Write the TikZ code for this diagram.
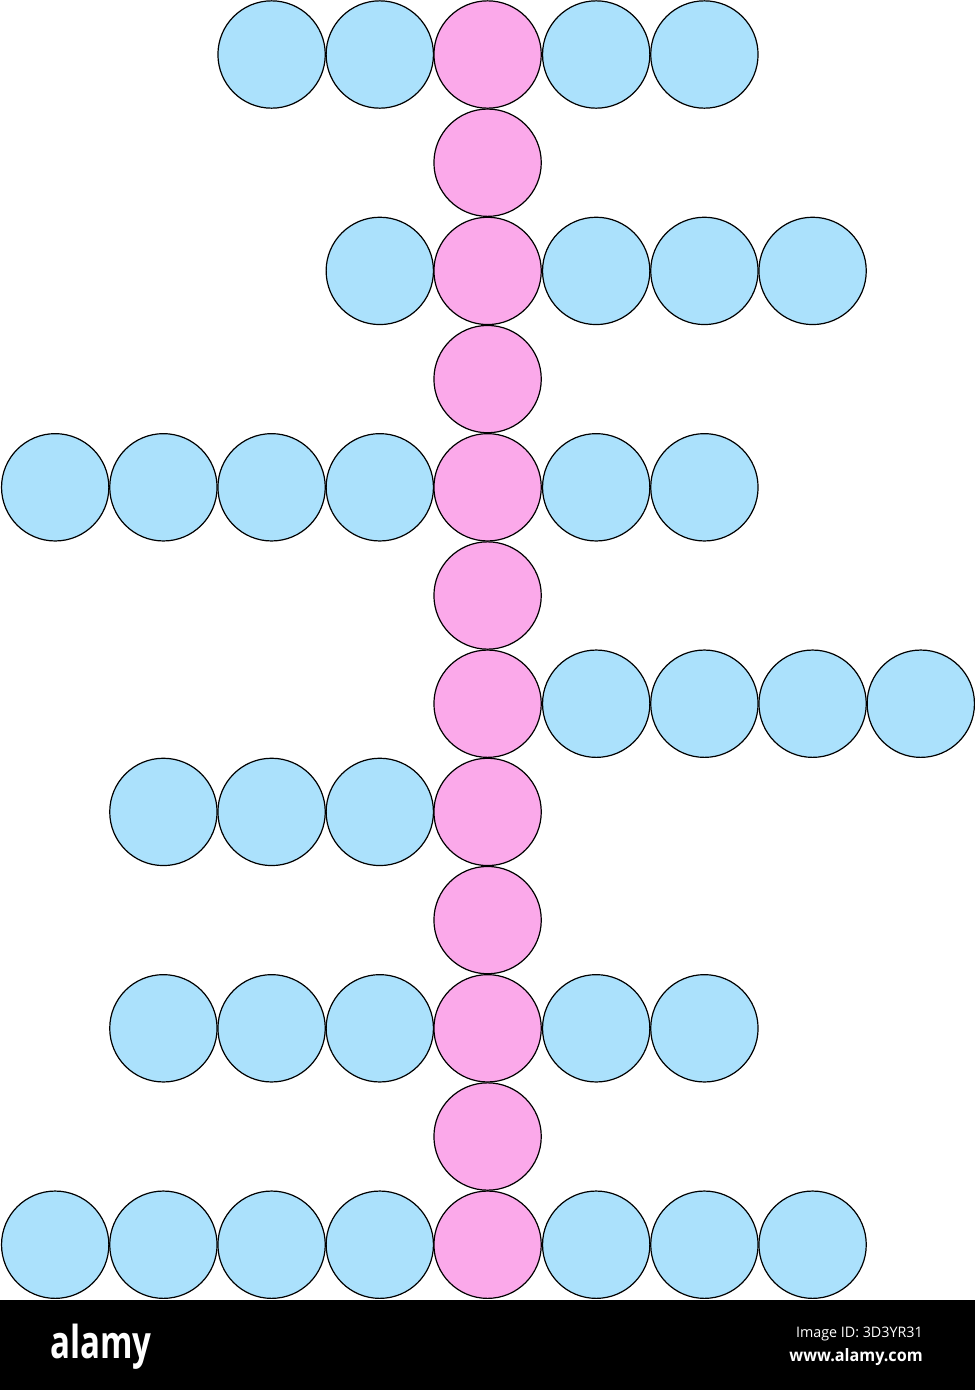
\documentclass[tikz,border=0pt]{standalone}
\usepackage{fontspec}
\setmainfont{Open Sans}
\usepackage{graphicx}
\definecolor{cblue}{HTML}{ABE1FC}
\definecolor{cpink}{HTML}{FBA9EA}
\begin{document}
\begin{tikzpicture}[x=0.75pt,y=-0.75pt,
  ball/.style={circle,draw=black,line width=0.9pt,minimum size=80.5pt,inner sep=0pt},
  blueball/.style={ball,fill=cblue},
  pinkball/.style={ball,fill=cpink},
  wtext/.style={text=white,inner sep=0pt}]
\useasboundingbox (0,0) rectangle (975,1390);
\fill[white] (0,0) rectangle (975,1300);
\fill[black] (0,1300) rectangle (975,1390);
% blue circles: row/column
\foreach \r/\c in {0/2,0/3,0/5,0/6,
                   2/3,2/5,2/6,2/7,
                   4/0,4/1,4/2,4/3,4/5,4/6,
                   6/5,6/6,6/7,6/8,
                   7/1,7/2,7/3,
                   9/1,9/2,9/3,9/5,9/6,
                   11/0,11/1,11/2,11/3,11/5,11/6,11/7}
  \node[blueball] (b-\r-\c) at ({55.2+\c*108.2},{54.5+\r*108.2}) {};
% pink spine
\foreach \r in {0,...,11}
  \node[pinkball] (p-\r) at (487.6,{54.5+\r*108.2}) {};
% footer
\node[wtext,anchor=north west] (logo) at (50,1324)
  {\resizebox*{76pt}{34pt}{\bfseries alamy}};
\node[wtext,anchor=north east] (imgid) at (923,1327)
  {\resizebox*{95pt}{10.5pt}{Image ID: 3D3YR31}};
\node[wtext,anchor=north east] (www) at (923,1348)
  {\resizebox*{100pt}{12.8pt}{\bfseries www.alamy.com}};
\end{tikzpicture}
\end{document}
